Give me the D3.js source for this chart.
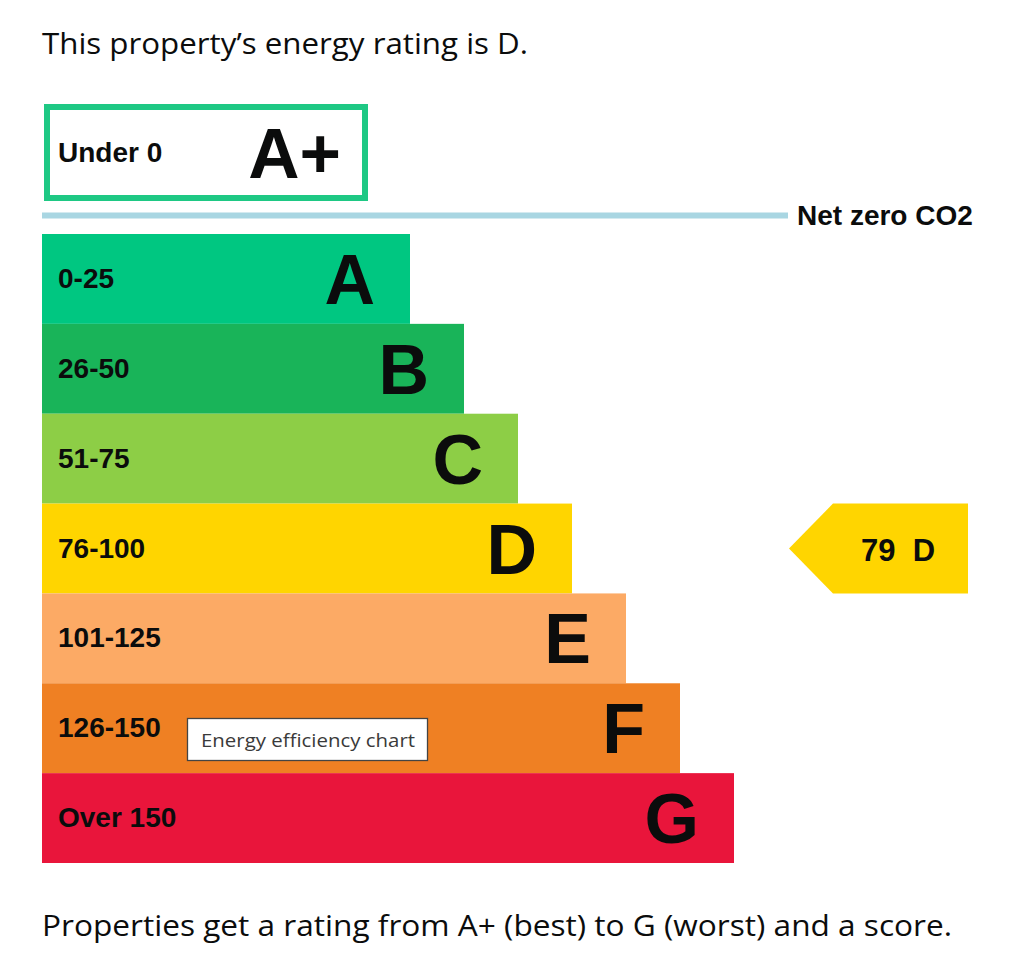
<!DOCTYPE html>
<html>
<head>
<meta charset="utf-8">
<script src="https://cdn.jsdelivr.net/npm/d3@7"></script>
<style>
  html, body { margin: 0; padding: 0; background: #fff; }
  svg { display: block; }
</style>
</head>
<body>
<div id="chart"></div>
<script>
// ---- data ----
const bands = ["A", "B", "C", "D", "E", "F", "G"];
const ranges = ["0-25", "26-50", "51-75", "76-100", "101-125", "126-150", "Over 150"];
const bandColors = ["#00c781", "#19b459", "#8dce46", "#ffd500", "#fcaa65", "#ef8023", "#e9153b"];
const topBand = { letter: "A+", range: "Under 0" };
const currentScore = 79;
const currentBand = "D";
const titleText = "This property\u2019s energy rating is D.";
const footText = "Properties get a rating from A+ (best) to G (worst) and a score.";
const netZeroLabel = "Net zero CO2";
const tooltipText = "Energy efficiency chart";

// ---- layout ----
const W = 1024, H = 980;
const svg = d3.select("#chart").append("svg").attr("width", W).attr("height", H);

const left = 42;
const y = d3.scaleBand().domain(bands).range([234, 863]).paddingInner(0).paddingOuter(0);
const xEnd = d3.scaleLinear().domain([0, bands.length - 1]).range([410, 734]);
const labelFont = "'Liberation Sans', Arial, sans-serif";
const textFont = "'Open Sans', 'Noto Sans', sans-serif";

// title
svg.append("text").attr("x", 42).attr("y", 54)
  .attr("font-family", textFont).attr("font-size", 29).attr("fill", "#0b0c0c")
  .attr("textLength", 486).attr("lengthAdjust", "spacingAndGlyphs")
  .text(titleText);

// A+ box
svg.append("rect").attr("x", 47).attr("y", 107).attr("width", 318).attr("height", 91)
  .attr("fill", "#fff").attr("stroke", "#1ec884").attr("stroke-width", 6);
svg.append("text").attr("x", 58).attr("y", 162)
  .attr("font-family", labelFont).attr("font-weight", "bold").attr("font-size", 28).attr("fill", "#0b0c0c")
  .text(topBand.range);
svg.append("text").attr("x", 341).attr("y", 178).attr("text-anchor", "end")
  .attr("font-family", labelFont).attr("font-weight", "bold").attr("font-size", 71).attr("fill", "#0b0c0c")
  .text(topBand.letter);

// Net zero line
svg.append("line").attr("x1", 42).attr("x2", 788).attr("y1", 215.5).attr("y2", 215.5)
  .attr("stroke", "#a9d6e2").attr("stroke-width", 6);
svg.append("text").attr("x", 797).attr("y", 225)
  .attr("font-family", labelFont).attr("font-weight", "bold").attr("font-size", 28).attr("fill", "#0b0c0c")
  .text(netZeroLabel);

// bars
const g = svg.append("g");
const rows = g.selectAll("g.row").data(bands).join("g").attr("class", "row");
rows.append("rect")
  .attr("x", left)
  .attr("y", d => y(d))
  .attr("width", (d, i) => xEnd(i) - left)
  .attr("height", y.bandwidth())
  .attr("fill", (d, i) => bandColors[i]);
rows.append("text")
  .attr("x", 58)
  .attr("y", d => y(d) + y.bandwidth() / 2 + 9)
  .attr("font-family", labelFont).attr("font-weight", "bold").attr("font-size", 28).attr("fill", "#0b0c0c")
  .text((d, i) => ranges[i]);
rows.append("text")
  .attr("x", (d, i) => xEnd(i) - 35)
  .attr("y", d => y(d) + y.bandwidth() / 2 + 25)
  .attr("text-anchor", "end")
  .attr("font-family", labelFont).attr("font-weight", "bold").attr("font-size", 70).attr("fill", "#0b0c0c")
  .text(d => d);

// current rating arrow
const ci = bands.indexOf(currentBand);
const ay0 = y(currentBand), ay1 = y(currentBand) + y.bandwidth(), aym = (ay0 + ay1) / 2;
const ax0 = 789, axN = 833, ax1 = 968;
svg.append("path")
  .attr("d", d3.line()([[ax0, aym], [axN, ay0], [ax1, ay0], [ax1, ay1], [axN, ay1]]) + "Z")
  .attr("fill", bandColors[ci]);
svg.append("text").attr("x", 861).attr("y", aym + 12)
  .attr("font-family", labelFont).attr("font-weight", "bold").attr("font-size", 31).attr("fill", "#0b0c0c")
  .text(currentScore + "\u00a0 " + currentBand);

// tooltip
svg.append("rect").attr("x", 187.5).attr("y", 718.5).attr("width", 240).attr("height", 42)
  .attr("fill", "#fff").attr("stroke", "#444").attr("stroke-width", 1.3);
svg.append("text").attr("x", 201).attr("y", 747)
  .attr("font-family", textFont).attr("font-size", 18).attr("fill", "#3a3a3a")
  .attr("textLength", 214).attr("lengthAdjust", "spacingAndGlyphs")
  .text(tooltipText);

// footer
svg.append("text").attr("x", 42).attr("y", 936)
  .attr("font-family", textFont).attr("font-size", 30).attr("fill", "#0b0c0c")
  .attr("textLength", 910).attr("lengthAdjust", "spacingAndGlyphs")
  .text(footText);
</script>
</body>
</html>
